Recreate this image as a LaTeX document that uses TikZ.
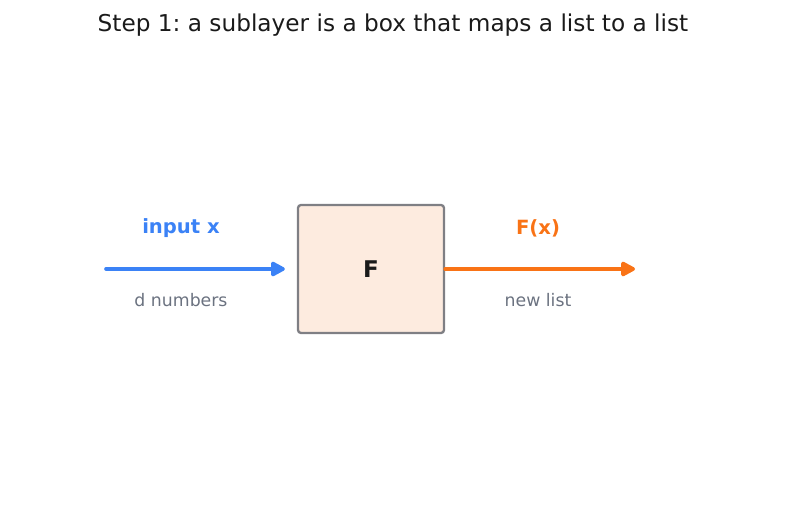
\documentclass[tikz,border=0pt]{standalone}
\usepackage{fontspec}
\setmainfont{DejaVu Sans}
\usetikzlibrary{arrows.meta}
\definecolor{inblue}{HTML}{3B82F6}
\definecolor{outorange}{HTML}{F97316}
\definecolor{subgray}{HTML}{6B7280}
\definecolor{boxfill}{HTML}{FDEBDF}
\definecolor{boxedge}{HTML}{7F7F84}
\definecolor{titleink}{HTML}{1A1A1A}
\frenchspacing
\begin{document}
\begin{tikzpicture}[
    x=1pt, y=1pt,
    flow/.style={line width=3.6pt, line cap=round, -{Triangle[length=16pt, width=16pt, round]}},
    tag/.style={font=\fontsize{19.6}{22}\selectfont\bfseries},
    note/.style={font=\fontsize{17.3}{20}\selectfont, color=subgray}
  ]
    \useasboundingbox (0, 0) rectangle (787, 510);
    % --- Title ---
    \node[font=\fontsize{23.2}{27}\selectfont, color=titleink] (title) at (393, 485) {Step 1: a sublayer is a box that maps a list to a list};

    % --- Sublayer box F ---
    \node[draw=boxedge, line width=2.3pt, fill=boxfill, rounded corners=3pt, minimum width=146pt, minimum height=128pt, font=\fontsize{23}{27}\selectfont\bfseries, text=titleink] (sub) at (371, 241) {F};

    % Input side
    \coordinate (inStart) at (106, 241);
    \draw[flow, inblue] (inStart) -- ([xshift=-12pt]sub.west);
    \node[tag, color=inblue] (inTag) at (181, 282) {input x};
    \node[note] (inNote) at (181, 210) {d numbers};

    % Output side
    \coordinate (outEnd) at (635, 241);
    \draw[flow, outorange] ([xshift=0pt]sub.east) -- (outEnd);
    \node[tag, color=outorange] (outTag) at (538, 282) {F(x)};
    \node[note] (outNote) at (538, 210) {new list};
  \end{tikzpicture}
\end{document}
